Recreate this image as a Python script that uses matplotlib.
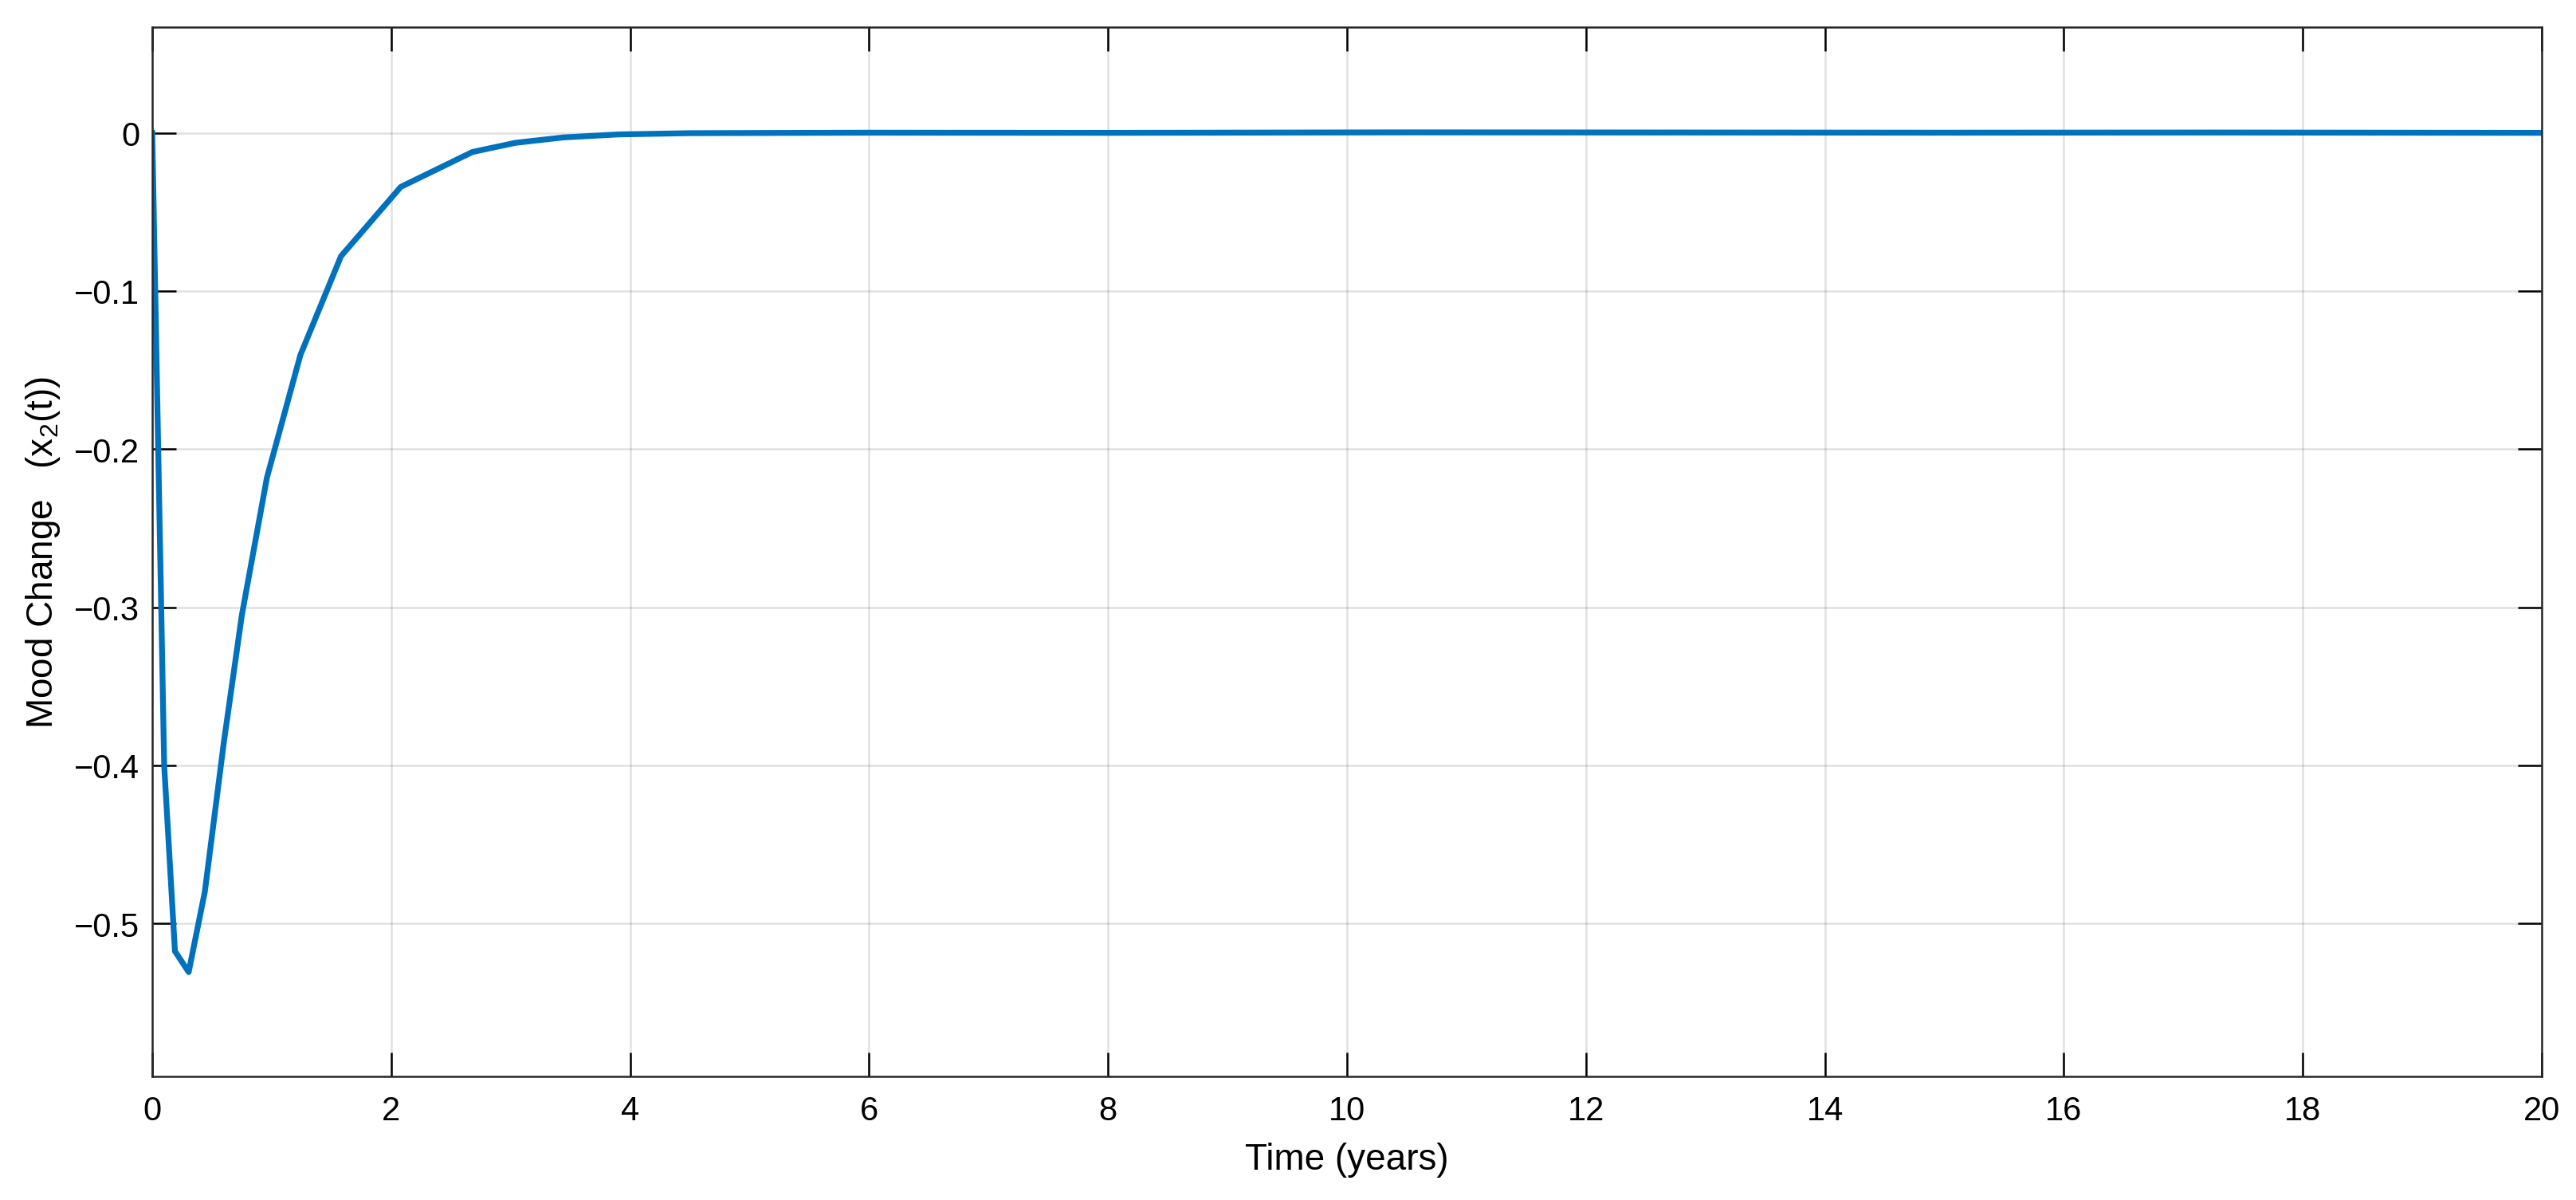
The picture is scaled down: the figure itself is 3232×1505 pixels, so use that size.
import numpy as np
import matplotlib.pyplot as plt
from matplotlib.ticker import FuncFormatter

# values
t = [0.0, 0.10, 0.19, 0.305, 0.44, 0.60, 0.75, 0.96, 1.24, 1.58, 2.08, 2.68,
     3.04, 3.44, 3.90, 4.50, 6.0, 8.0, 10.5, 13.0, 15.0, 17.3, 20.0]
x2 = [0.0, -0.400, -0.5175, -0.5307, -0.480, -0.385, -0.305, -0.218, -0.1405,
      -0.078, -0.0342, -0.0121, -0.0063, -0.0029, -0.0010, -0.0002, 0.0001,
      0.0, 0.0003, 0.0002, 0.0001, 0.0002, 0.0]

xticks = np.arange(0, 21, 2)
yticks = [-0.5, -0.4, -0.3, -0.2, -0.1, 0]

plt.rcParams['font.family'] = ['Liberation Sans', 'DejaVu Sans']
plt.rcParams['font.size'] = 10
plt.rcParams['mathtext.fontset'] = 'custom'
plt.rcParams['mathtext.rm'] = 'Liberation Sans'
plt.rcParams['mathtext.it'] = 'Liberation Sans'

fig = plt.figure(figsize=(3232 / 300, 1506 / 300), dpi=300)
ax = fig.add_axes([0.0591, 0.1029, 0.9276, 0.8739])

ax.plot(t, x2, color='#0072BD', linewidth=1.75)

ax.set_xlim(0, 20)
ax.set_ylim(-0.5967, 0.0669)
ax.set_xticks(xticks)
ax.set_yticks(yticks)
ax.yaxis.set_major_formatter(FuncFormatter(lambda v, p: '0' if abs(v) < 1e-9 else f'{v:g}'.replace('-', '\u2212')))
ax.grid(True, color='#000000', alpha=0.12, linewidth=0.6)
ax.tick_params(direction='in', length=7.3, width=0.6, top=True, right=True)
ax.tick_params(axis='x', pad=5.5)
ax.tick_params(axis='y', pad=3.8)
for s in ax.spines.values():
    s.set_linewidth(0.6)
    s.set_color('#262626')

ax.set_xlabel('Time (years)', fontsize=11)
ax.set_ylabel('Mood Change   (x$_2$(t))', fontsize=11)
ax.xaxis.set_label_coords(0.5, -0.0625)
ax.yaxis.set_label_coords(-0.0377, 0.5)

fig.savefig('out.png', dpi=300)
